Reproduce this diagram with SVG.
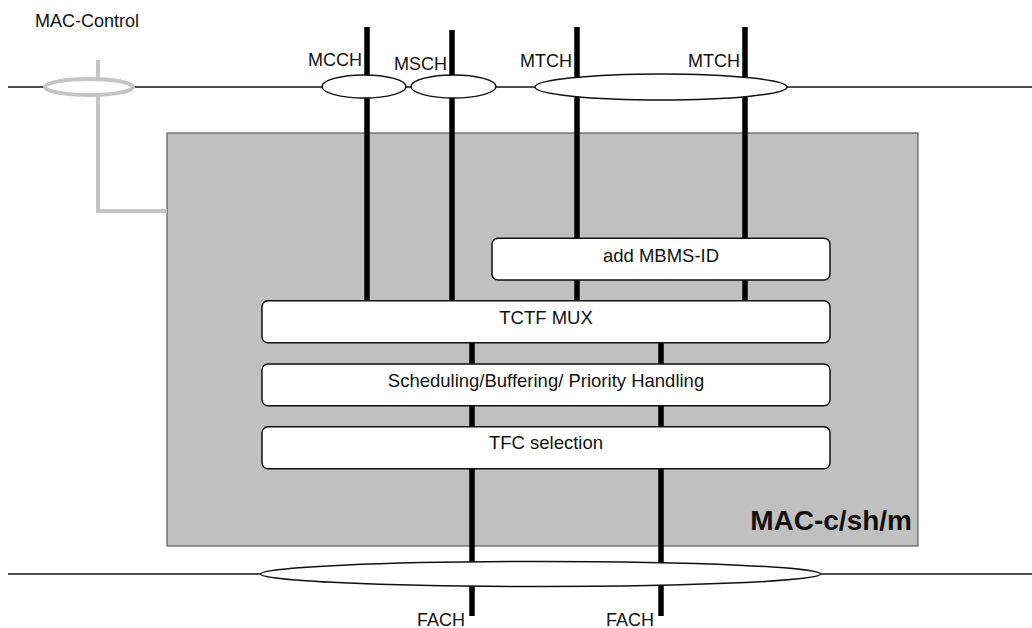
<svg xmlns="http://www.w3.org/2000/svg" width="1032" height="628" viewBox="0 0 1032 628">
<style>
  .lbl { font-family: "Liberation Sans", Arial, sans-serif; font-size: 18px; fill: #111; }
  .btxt { font-family: "Liberation Sans", Arial, sans-serif; font-size: 18.5px; fill: #111; text-anchor: middle; }
  .title { font-family: "Liberation Sans", Arial, sans-serif; font-size: 28px; font-weight: bold; fill: #111; text-anchor: end; }
  .box { fill: #ffffff; stroke: #111; stroke-width: 1.5; }
  .chan { fill: #ffffff; stroke: #111; stroke-width: 1.5; }
  .thin { stroke: #111; stroke-width: 1.6; fill: none; }
  .thick { stroke: #000; stroke-width: 5.5; fill: none; }
  .gray { stroke: #c4c4c4; stroke-width: 4; fill: none; }
</style>
<rect width="1032" height="628" fill="#ffffff"/>

<g id="mac-csh-m">
  <rect x="167" y="133" width="751" height="413" fill="#c0c0c0" stroke="#404040" stroke-width="1"/>
  <text class="title" x="912" y="530">MAC-c/sh/m</text>
</g>

<g id="connectors">
  <line class="thin" x1="8" y1="87" x2="1032" y2="87"/>
  <line class="thin" x1="8" y1="574" x2="1032" y2="574"/>
  <path class="gray" d="M98,60 V211 H167"/>
  <line class="thick" x1="367" y1="27" x2="367" y2="301"/>
  <line class="thick" x1="452" y1="30" x2="452" y2="304"/>
  <line class="thick" x1="577" y1="27" x2="577" y2="301"/>
  <line class="thick" x1="745" y1="27" x2="745" y2="301"/>
  <line class="thick" x1="472" y1="342" x2="472" y2="616"/>
  <line class="thick" x1="661" y1="342" x2="661" y2="616"/>
</g>

<g id="mac-control">
  <ellipse cx="89" cy="87" rx="44" ry="8" fill="#ffffff" stroke="#c4c4c4" stroke-width="4"/>
  <text class="lbl" x="35" y="27">MAC-Control</text>
</g>

<g id="mcch">
  <ellipse class="chan" cx="364" cy="86.5" rx="42" ry="11.5"/>
  <text class="lbl" x="362" y="66" text-anchor="end">MCCH</text>
</g>
<g id="msch">
  <ellipse class="chan" cx="453.5" cy="86.5" rx="42.5" ry="11.5"/>
  <text class="lbl" x="447" y="69.5" text-anchor="end">MSCH</text>
</g>
<g id="mtch">
  <ellipse class="chan" cx="661" cy="87" rx="126" ry="13"/>
  <text class="lbl" x="572" y="66.5" text-anchor="end">MTCH</text>
  <text class="lbl" x="740" y="66.5" text-anchor="end">MTCH</text>
</g>
<g id="fach">
  <ellipse class="chan" cx="540.5" cy="574" rx="280" ry="12.5"/>
  <text class="lbl" x="465" y="625.5" text-anchor="end">FACH</text>
  <text class="lbl" x="654" y="625.5" text-anchor="end">FACH</text>
</g>

<g id="add-mbms-id">
  <rect class="box" x="492" y="238.3" width="338" height="41.7" rx="6"/>
  <text class="btxt" x="661" y="261.7">add MBMS-ID</text>
</g>
<g id="tctf-mux">
  <rect class="box" x="262" y="300.7" width="568" height="42" rx="6"/>
  <text class="btxt" x="546" y="324">TCTF MUX</text>
</g>
<g id="scheduling">
  <rect class="box" x="262" y="364" width="568" height="41.7" rx="6"/>
  <text class="btxt" x="546" y="386.7">Scheduling/Buffering/ Priority Handling</text>
</g>
<g id="tfc-selection">
  <rect class="box" x="262" y="426.7" width="568" height="42" rx="6"/>
  <text class="btxt" x="546" y="449">TFC selection</text>
</g>
</svg>
